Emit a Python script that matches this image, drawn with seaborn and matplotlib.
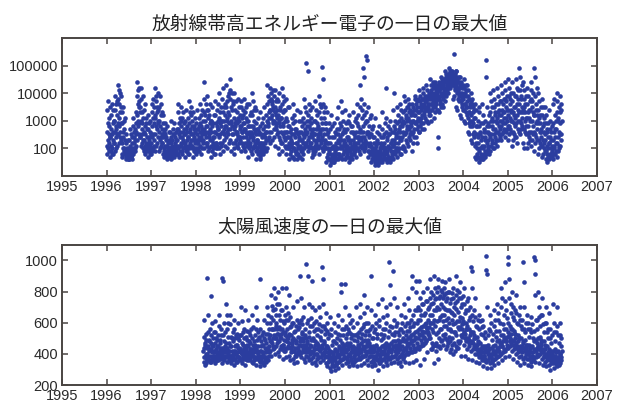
import numpy as np
import pandas as pd
import matplotlib
matplotlib.use("Agg")
import matplotlib.pyplot as plt
import matplotlib.ticker as mticker
import seaborn as sns

nan = np.nan

# Daily maxima, sampled 16 times per month (one row = one month).
# Radiation-belt electrons: log10 of the flux.
elec_1996 = [
    2.1, 3.4, 1.8, 2.6, 3.7, 2.3, 2.0, 2.9, 2.5, 1.9, 3.1, 2.2, 2.8, 1.7, 3.5, 2.4,
    2.4, 1.9, 3.2, 2.7, 2.1, 3.6, 2.5, 1.8, 2.0, 2.9, 2.3, 3.4, 1.8, 2.6, 3.0, 2.2,
    3.0, 2.2, 3.9, 2.6, 1.9, 3.4, 2.8, 2.4, 2.7, 3.6, 2.0, 3.2, 2.5, 3.7, 2.1, 2.9,
    3.8, 2.5, 4.3, 3.1, 2.2, 3.6, 4.1, 2.8, 2.6, 3.3, 4.0, 2.4, 3.9, 2.9, 3.5, 2.3,
    2.9, 1.8, 3.3, 2.2, 1.7, 2.6, 3.5, 2.0, 2.4, 2.0, 3.0, 1.9, 2.7, 1.8, 2.3, 3.1,
    1.8, 1.6, 2.2, 1.7, 1.9, 2.5, 1.7, 1.8, 1.7, 2.0, 1.6, 1.8, 2.3, 1.7, 1.9, 1.6,
    1.7, 2.3, 1.6, 2.0, 2.7, 1.8, 2.1, 1.7, 1.9, 1.7, 2.5, 1.8, 2.2, 1.6, 2.4, 1.8,
    2.0, 2.8, 1.8, 3.1, 2.4, 1.9, 2.6, 2.2, 2.3, 1.9, 2.7, 2.0, 3.3, 2.1, 2.9, 2.5,
    2.6, 3.9, 4.4, 3.2, 2.3, 4.1, 3.6, 2.8, 3.0, 3.5, 2.5, 4.2, 2.9, 3.7, 2.4, 3.3,
    3.5, 2.4, 4.2, 3.0, 2.1, 3.8, 2.7, 2.2, 2.9, 3.3, 2.5, 3.9, 2.3, 3.1, 2.0, 2.6,
    2.3, 3.4, 1.9, 2.8, 3.6, 2.1, 2.5, 1.8, 2.2, 2.9, 2.0, 3.1, 2.4, 1.9, 2.7, 2.1,
    2.0, 2.7, 1.7, 3.2, 2.2, 1.9, 2.9, 2.4, 2.3, 1.8, 2.6, 2.1, 3.0, 1.8, 2.5, 2.0,
]
elec_1997 = [
    2.2, 3.6, 1.9, 2.8, 3.3, 2.4, 3.8, 2.0, 2.5, 3.1, 2.1, 3.5, 2.3, 2.9, 1.9, 3.2,
    3.1, 4.2, 2.5, 3.7, 2.1, 3.9, 2.8, 3.3, 2.7, 3.5, 2.2, 3.0, 4.0, 2.4, 3.4, 2.9,
    2.6, 3.5, 1.9, 3.0, 3.9, 2.3, 2.0, 2.8, 2.4, 3.2, 2.1, 3.6, 2.7, 2.2, 3.3, 2.5,
    2.2, 1.8, 2.9, 2.4, 3.2, 1.9, 2.6, 1.7, 2.0, 2.5, 1.8, 2.7, 2.1, 2.9, 1.9, 2.3,
    1.8, 2.4, 1.6, 2.1, 2.8, 1.7, 2.0, 1.9, 1.7, 2.2, 1.9, 2.6, 1.8, 2.3, 1.7, 2.0,
    2.0, 1.7, 2.6, 1.9, 3.0, 2.2, 1.6, 2.4, 1.8, 2.3, 2.1, 1.7, 2.7, 1.9, 2.5, 2.0,
    1.9, 2.5, 1.7, 2.9, 2.1, 1.8, 2.4, 2.0, 2.2, 1.8, 2.6, 1.9, 2.3, 2.1, 1.8, 2.7,
    2.3, 3.3, 1.8, 2.7, 3.6, 2.0, 2.5, 1.7, 2.1, 2.9, 2.4, 3.1, 1.9, 2.6, 2.2, 3.0,
    2.1, 2.8, 3.5, 1.9, 2.4, 3.1, 1.8, 2.6, 2.3, 3.3, 2.0, 2.7, 2.2, 2.9, 2.5, 2.1,
    2.5, 1.7, 3.0, 2.2, 3.4, 1.9, 2.7, 2.0, 2.3, 2.8, 1.9, 2.6, 3.1, 2.1, 2.4, 1.8,
    2.4, 3.7, 2.0, 2.9, 1.8, 3.3, 2.6, 2.2, 2.7, 2.1, 3.2, 2.5, 3.5, 2.3, 2.8, 2.0,
    2.1, 3.0, 1.7, 2.5, 3.3, 2.3, 1.9, 2.7, 2.4, 2.0, 2.8, 2.2, 3.1, 1.9, 2.6, 2.3,
]
elec_1998 = [
    2.0, 2.9, 1.8, 2.5, 3.4, 2.2, 2.7, 1.9, 2.3, 2.0, 2.7, 2.2, 3.1, 1.9, 2.4, 2.8,
    2.6, 3.6, 2.1, 2.9, 1.8, 3.2, 2.4, 2.8, 2.3, 2.7, 2.0, 3.4, 2.5, 2.2, 3.0, 2.6,
    2.3, 3.8, 4.4, 2.7, 3.3, 2.0, 3.0, 2.5, 2.6, 3.2, 2.2, 3.6, 2.8, 2.4, 3.4, 2.1,
    2.8, 3.9, 2.2, 3.4, 1.9, 2.6, 3.1, 2.4, 2.5, 3.2, 2.0, 2.9, 3.6, 2.3, 2.7, 3.0,
    2.1, 3.0, 1.7, 2.6, 3.5, 2.3, 1.9, 2.8, 2.4, 2.0, 2.9, 2.2, 3.2, 1.8, 2.6, 2.1,
    2.4, 1.8, 3.2, 2.6, 3.7, 2.0, 2.9, 2.2, 2.2, 2.8, 2.0, 3.4, 2.5, 2.1, 3.0, 2.7,
    2.7, 3.6, 2.0, 3.1, 4.0, 2.4, 1.8, 2.9, 2.5, 3.3, 2.2, 2.8, 3.5, 2.1, 3.0, 2.6,
    3.0, 2.2, 3.8, 2.6, 4.2, 1.9, 3.3, 2.5, 2.7, 3.5, 2.3, 3.0, 2.1, 3.6, 2.8, 3.2,
    2.8, 3.5, 4.3, 2.4, 3.1, 2.0, 3.7, 2.6, 3.0, 2.5, 3.9, 2.7, 3.3, 2.2, 4.0, 2.9,
    3.2, 4.5, 2.3, 3.8, 2.7, 4.1, 1.9, 3.0, 2.9, 3.5, 2.5, 4.0, 2.8, 3.4, 2.2, 3.7,
    2.5, 3.6, 2.0, 3.1, 4.0, 2.7, 1.8, 2.9, 2.8, 2.2, 3.4, 2.6, 3.7, 2.3, 3.0, 2.5,
    2.6, 3.3, 2.1, 2.9, 3.8, 2.4, 2.0, 3.1, 2.4, 3.0, 2.2, 3.5, 2.7, 2.3, 3.2, 2.8,
]
elec_1999 = [
    2.4, 3.5, 1.9, 2.8, 3.7, 2.2, 3.1, 2.6, 2.6, 3.2, 2.1, 2.9, 2.4, 3.4, 2.0, 2.7,
    2.9, 3.8, 2.2, 3.3, 1.9, 2.7, 3.5, 2.4, 2.6, 3.1, 2.1, 3.6, 2.5, 3.0, 2.2, 2.8,
    2.3, 3.0, 1.7, 2.6, 3.6, 2.0, 2.8, 2.2, 2.5, 2.1, 3.2, 2.4, 2.8, 1.9, 3.3, 2.6,
    2.5, 4.0, 1.8, 3.2, 2.3, 3.7, 2.0, 2.8, 2.4, 3.4, 2.1, 2.7, 3.0, 2.2, 3.5, 2.6,
    2.1, 2.9, 1.6, 2.5, 3.4, 1.9, 2.3, 2.7, 2.3, 2.0, 2.7, 2.2, 3.1, 1.8, 2.5, 2.1,
    1.9, 2.6, 1.7, 3.3, 2.2, 1.6, 2.8, 2.0, 2.2, 1.8, 2.5, 2.0, 2.9, 1.9, 2.4, 2.1,
    2.2, 3.1, 1.8, 2.7, 3.5, 2.0, 2.5, 1.9, 2.4, 2.0, 2.8, 2.2, 3.2, 1.9, 2.6, 2.3,
    2.6, 3.6, 2.0, 4.3, 3.0, 2.3, 3.9, 2.8, 2.9, 3.3, 2.4, 3.7, 2.6, 3.1, 2.2, 3.4,
    3.4, 4.2, 2.6, 3.8, 3.1, 4.0, 2.3, 3.6, 3.2, 3.7, 2.9, 3.4, 4.1, 3.0, 3.5, 2.7,
    3.0, 3.9, 2.4, 3.5, 4.1, 2.1, 3.3, 2.8, 3.2, 2.7, 3.7, 2.9, 3.4, 2.5, 3.8, 3.1,
    2.6, 3.7, 2.0, 3.2, 4.0, 2.4, 1.8, 3.0, 2.9, 3.4, 2.3, 2.8, 3.5, 2.2, 3.1, 2.6,
    3.1, 4.2, 2.2, 3.6, 1.9, 2.9, 3.9, 2.5, 2.8, 3.3, 2.4, 3.7, 2.6, 3.4, 2.1, 3.0,
]
elec_2000 = [
    2.3, 3.4, 1.8, 3.8, 2.6, 2.0, 3.1, 2.4, 2.6, 2.1, 3.0, 2.4, 3.5, 2.0, 2.8, 2.2,
    2.0, 2.8, 1.6, 3.5, 2.4, 1.8, 2.6, 2.1, 2.3, 1.9, 2.7, 2.1, 3.1, 1.7, 2.5, 2.2,
    2.2, 3.6, 1.7, 2.9, 2.0, 3.2, 1.6, 2.5, 2.0, 2.7, 1.9, 2.4, 3.0, 1.8, 2.6, 2.2,
    1.9, 2.7, 1.6, 3.4, 2.2, 1.8, 2.5, 2.0, 2.1, 1.8, 2.6, 2.3, 3.0, 1.7, 2.4, 2.0,
    2.1, 3.3, 1.7, 2.6, 1.9, 3.0, 2.3, 1.6, 2.3, 1.9, 2.8, 2.0, 3.1, 1.8, 2.5, 2.2,
    2.4, 3.8, 2.0, 2.9, 2.2, 3.5, 2.6, 2.1, 2.7, 2.2, 3.3, 5.1, 2.5, 3.0, 2.1, 2.8,
    2.6, 4.8, 1.9, 3.2, 2.3, 3.6, 2.0, 2.8, 2.4, 3.0, 2.1, 2.7, 3.4, 2.2, 2.9, 2.5,
    2.2, 3.1, 1.7, 2.6, 3.5, 2.0, 2.4, 1.8, 2.0, 2.7, 1.9, 2.3, 3.0, 1.8, 2.5, 2.1,
    2.5, 3.7, 1.9, 3.0, 2.2, 3.4, 2.7, 2.0, 2.3, 2.9, 2.1, 3.2, 2.5, 2.0, 2.7, 2.4,
    2.8, 3.9, 2.1, 3.3, 1.8, 2.6, 3.6, 2.3, 2.5, 3.1, 2.2, 3.5, 2.7, 2.0, 2.9, 2.4,
    2.3, 4.95, 3.6, 1.9, 4.5, 2.7, 3.1, 2.1, 2.5, 3.3, 2.0, 2.9, 2.3, 3.5, 2.2, 2.7,
    2.0, 2.9, 1.5, 2.5, 3.3, 1.7, 2.2, 1.6, 2.2, 1.8, 2.6, 2.0, 2.9, 1.6, 2.4, 1.9,
]
elec_2001 = [
    1.8, 2.7, 1.4, 2.2, 3.2, 1.6, 2.0, 1.5, 2.0, 1.6, 2.4, 1.7, 2.8, 1.5, 2.1, 1.8,
    1.7, 2.4, 1.5, 2.9, 2.0, 1.6, 2.6, 1.9, 2.1, 1.7, 2.5, 1.8, 2.2, 1.6, 2.7, 2.0,
    2.0, 3.1, 1.6, 2.5, 3.5, 1.8, 2.3, 1.7, 2.2, 1.8, 2.7, 2.0, 2.9, 1.7, 2.4, 2.1,
    2.3, 3.7, 1.7, 2.8, 2.0, 3.3, 1.6, 2.5, 2.1, 2.6, 1.8, 3.0, 2.3, 1.9, 2.7, 2.2,
    1.9, 2.6, 1.6, 3.4, 2.2, 1.7, 2.9, 2.1, 2.0, 2.4, 1.8, 2.7, 2.1, 3.0, 1.9, 2.3,
    1.7, 2.4, 1.5, 2.9, 2.0, 3.2, 1.6, 2.2, 1.9, 2.3, 1.7, 2.6, 2.0, 2.8, 1.8, 2.1,
    2.0, 2.8, 1.6, 3.3, 2.3, 1.8, 2.6, 1.9, 2.2, 1.8, 2.5, 2.0, 3.0, 1.9, 2.4, 2.1,
    2.2, 3.1, 1.7, 2.6, 3.6, 2.0, 2.9, 2.4, 2.4, 2.0, 2.8, 2.2, 3.2, 1.9, 2.6, 2.3,
    2.4, 3.5, 1.8, 4.3, 2.7, 2.1, 3.8, 2.3, 2.6, 2.1, 3.1, 2.4, 3.4, 2.0, 2.8, 2.2,
    2.6, 4.9, 3.2, 1.9, 4.6, 2.4, 3.6, 2.1, 2.3, 2.9, 2.0, 3.3, 5.35, 2.2, 3.0, 2.6,
    2.5, 5.2, 2.2, 3.0, 1.7, 2.6, 3.5, 1.9, 2.1, 2.8, 1.9, 2.4, 3.1, 1.8, 2.5, 2.2,
    1.8, 2.5, 1.5, 3.2, 2.1, 1.6, 2.7, 1.9, 2.0, 1.7, 2.4, 1.8, 2.8, 1.6, 2.2, 1.9,
]
elec_2002 = [
    1.6, 2.4, 1.4, 2.0, 3.1, 1.5, 2.2, 1.7, 1.8, 2.1, 1.5, 2.6, 1.9, 1.6, 2.3, 1.7,
    1.5, 2.2, 1.4, 2.8, 1.8, 1.6, 2.5, 1.9, 1.7, 2.0, 1.5, 2.4, 1.8, 2.1, 1.6, 2.2,
    1.8, 2.7, 1.5, 3.3, 2.1, 1.6, 2.4, 2.0, 1.9, 2.2, 1.7, 2.5, 1.8, 2.9, 2.0, 1.6,
    2.0, 4.2, 1.6, 2.6, 3.1, 1.5, 2.3, 1.8, 1.9, 2.4, 1.7, 2.8, 2.1, 1.6, 2.5, 2.0,
    1.7, 2.5, 1.5, 3.0, 2.0, 1.6, 2.7, 2.2, 1.9, 2.2, 1.6, 2.6, 1.8, 2.3, 1.7, 2.1,
    2.1, 3.4, 1.6, 2.6, 4.0, 1.9, 2.3, 2.8, 2.2, 2.7, 1.8, 3.0, 2.4, 2.0, 2.5, 1.9,
    2.4, 3.5, 1.7, 2.9, 2.0, 3.2, 2.6, 1.9, 2.2, 2.7, 2.0, 3.0, 2.4, 1.8, 2.8, 2.3,
    2.6, 3.6, 1.8, 3.1, 2.3, 3.4, 2.0, 2.8, 2.4, 2.9, 2.1, 3.3, 2.6, 2.0, 3.0, 2.5,
    2.9, 3.9, 2.0, 3.4, 2.5, 3.7, 1.9, 3.1, 2.6, 3.2, 2.3, 3.5, 2.8, 2.2, 3.0, 2.7,
    3.1, 3.8, 2.1, 3.5, 2.7, 3.3, 2.4, 3.6, 2.8, 3.4, 2.5, 3.0, 2.3, 3.2, 2.9, 2.6,
    2.8, 3.6, 1.9, 3.3, 2.5, 3.0, 3.5, 2.2, 3.0, 2.6, 3.4, 2.4, 3.2, 2.7, 3.8, 2.9,
    3.2, 3.9, 2.4, 3.6, 2.9, 3.4, 2.2, 3.7, 3.0, 3.5, 2.7, 3.3, 2.8, 3.8, 3.1, 2.6,
]
elec_2003 = [
    3.3, 4.1, 2.6, 3.7, 3.0, 3.9, 2.8, 3.5, 3.1, 3.6, 2.9, 3.4, 3.8, 3.2, 2.7, 3.5,
    3.5, 4.0, 2.9, 3.8, 4.2, 3.2, 3.6, 2.7, 3.3, 3.7, 3.1, 3.9, 3.4, 3.0, 3.8, 3.5,
    3.7, 4.3, 3.0, 3.9, 3.4, 4.1, 2.9, 3.6, 3.5, 3.8, 3.2, 4.0, 3.6, 3.3, 3.9, 3.4,
    3.8, 4.5, 3.2, 4.1, 3.6, 4.3, 3.0, 3.9, 3.6, 4.0, 3.4, 4.2, 3.7, 3.5, 4.4, 3.8,
    3.9, 4.3, 3.1, 3.6, 4.4, 3.3, 4.0, 3.5, 3.8, 4.1, 3.6, 4.2, 3.7, 3.9, 4.3, 3.4,
    4.0, 2.4, 3.4, 4.2, 2.0, 4.4, 3.3, 4.1, 3.8, 4.1, 3.6, 4.3, 3.9, 3.7, 4.0, 3.5,
    4.2, 4.6, 3.6, 4.4, 3.9, 4.5, 3.5, 4.3, 4.0, 4.3, 3.8, 4.1, 4.5, 3.9, 4.2, 3.7,
    4.4, 4.8, 4.0, 4.6, 4.2, 4.7, 3.9, 4.5, 4.3, 4.6, 4.1, 4.5, 4.7, 4.2, 4.4, 4.0,
    4.6, 4.9, 4.3, 4.7, 4.4, 4.8, 4.2, 4.6, 4.5, 4.7, 4.4, 4.8, 4.5, 4.6, 4.3, 4.7,
    4.5, 4.8, 3.8, 4.7, 4.3, 4.6, 5.4, 3.9, 4.4, 4.6, 4.1, 4.7, 4.5, 4.2, 4.8, 4.4,
    4.3, 4.8, 3.5, 4.5, 4.0, 4.6, 3.4, 4.2, 4.1, 4.4, 3.8, 4.6, 4.2, 3.9, 4.4, 3.7,
    4.0, 4.6, 3.2, 4.3, 3.7, 4.4, 3.1, 3.9, 3.8, 4.2, 3.5, 4.0, 3.6, 4.3, 3.4, 3.9,
]
elec_2004 = [
    3.8, 4.5, 3.0, 4.2, 3.4, 4.0, 2.9, 3.6, 3.6, 4.1, 3.3, 3.9, 3.5, 4.3, 3.2, 3.7,
    3.5, 4.3, 2.6, 3.9, 3.1, 4.1, 2.5, 3.3, 3.3, 3.8, 2.9, 3.6, 3.0, 3.5, 2.8, 3.7,
    3.2, 4.0, 2.3, 3.6, 2.8, 3.8, 2.2, 3.0, 2.9, 3.5, 2.5, 3.3, 2.6, 3.1, 2.4, 3.4,
    2.5, 3.6, 1.7, 3.1, 2.1, 3.4, 1.6, 2.8, 2.2, 2.8, 1.8, 2.5, 2.0, 3.0, 1.7, 2.4,
    2.2, 3.3, 1.5, 2.8, 1.9, 3.5, 1.6, 2.5, 2.0, 2.6, 1.7, 2.3, 1.8, 2.9, 1.6, 2.1,
    2.4, 3.6, 1.7, 2.9, 2.0, 3.2, 1.6, 2.6, 2.1, 2.7, 1.8, 2.4, 1.9, 3.0, 1.7, 2.3,
    2.6, 5.2, 1.8, 4.6, 2.2, 3.5, 1.9, 2.8, 2.3, 2.9, 2.0, 2.6, 2.1, 3.2, 1.8, 2.5,
    2.8, 4.0, 1.9, 3.3, 2.4, 3.7, 2.1, 3.0, 2.5, 3.1, 2.2, 2.8, 2.3, 3.5, 2.0, 2.7,
    3.0, 4.1, 2.0, 3.5, 2.5, 3.8, 2.2, 3.2, 2.7, 3.3, 2.4, 3.0, 2.6, 3.6, 2.3, 2.9,
    3.1, 4.2, 2.1, 3.6, 2.6, 3.9, 2.3, 3.3, 2.8, 3.4, 2.5, 3.2, 2.7, 3.7, 2.4, 3.0,
    3.2, 4.3, 2.3, 3.7, 2.8, 4.0, 2.5, 3.4, 3.0, 3.6, 2.6, 3.3, 2.9, 3.8, 2.7, 3.1,
    3.3, 4.4, 2.4, 3.8, 2.9, 4.1, 2.6, 3.5, 3.1, 3.7, 2.7, 3.4, 3.0, 3.9, 2.8, 3.2,
]
elec_2005 = [
    3.4, 4.5, 2.3, 3.9, 2.8, 4.2, 2.5, 3.6, 3.1, 3.8, 2.7, 3.4, 3.0, 4.0, 2.6, 3.3,
    3.0, 4.4, 2.1, 3.7, 2.6, 4.0, 2.3, 3.3, 2.9, 3.5, 2.5, 3.2, 2.8, 3.9, 2.4, 3.1,
    3.5, 4.5, 2.4, 3.9, 2.9, 4.2, 2.2, 3.6, 3.2, 3.8, 2.7, 3.4, 3.0, 4.1, 2.6, 3.3,
    3.6, 4.9, 2.5, 4.1, 3.0, 4.6, 2.7, 3.8, 3.3, 3.9, 2.9, 3.5, 3.1, 4.3, 2.8, 3.4,
    3.3, 4.4, 2.2, 3.8, 2.7, 4.1, 2.0, 3.5, 3.0, 3.6, 2.6, 3.3, 2.8, 3.9, 2.5, 3.1,
    3.1, 4.2, 2.0, 3.6, 2.5, 3.9, 2.2, 3.3, 2.8, 3.4, 2.4, 3.1, 2.6, 3.7, 2.3, 3.0,
    3.4, 4.4, 2.1, 3.8, 2.6, 4.1, 2.3, 3.5, 3.0, 3.7, 2.5, 3.3, 2.8, 4.0, 2.6, 3.2,
    3.2, 4.9, 1.9, 4.6, 2.5, 3.9, 2.2, 3.4, 2.9, 3.6, 2.4, 3.2, 2.7, 4.2, 2.3, 3.0,
    2.9, 4.0, 1.8, 3.4, 2.3, 3.7, 2.0, 3.1, 2.6, 3.2, 2.2, 2.9, 2.4, 3.5, 2.1, 2.7,
    2.6, 3.8, 1.7, 3.2, 2.1, 3.5, 1.8, 2.8, 2.3, 2.9, 2.0, 2.6, 2.2, 3.1, 1.9, 2.5,
    2.3, 3.5, 1.6, 2.9, 1.9, 3.2, 1.5, 2.6, 2.1, 2.7, 1.8, 2.4, 2.0, 2.9, 1.7, 2.2,
    2.2, 3.4, 1.6, 2.7, 1.8, 3.0, 1.7, 2.4, 2.0, 2.6, 1.8, 2.3, 1.9, 2.8, 1.7, 2.1,
]
elec_2006 = [
    2.3, 3.6, 1.6, 2.9, 2.0, 3.8, 1.8, 2.6, 2.1, 2.7, 1.8, 3.2, 2.4, 1.9, 3.0, 2.2,
    2.7, 4.0, 1.7, 3.3, 2.2, 3.7, 1.9, 3.0, 2.4, 3.1, 2.0, 3.5, 2.6, 2.1, 3.3, 2.5,
    2.9, 3.9, 2.1, 3.4, 2.5, 3.6, 2.3, 3.0,
]

# Solar wind speed (km/s), same sampling; data start in March 1998.
wind_1998 = [
    nan, nan, nan, nan, nan, nan, nan, nan, nan, nan, nan, nan, nan, nan, nan, nan,
    nan, nan, nan, nan, nan, nan, nan, nan, nan, nan, nan, nan, nan, nan, nan, nan,
    420, 350, 510, 380, 620, 440, 330, 470, 380, 460, 340, 530, 400, 490, 360, 440,
    400, 890, 360, 540, 450, 650, 380, 490, 420, 360, 480, 390, 560, 430, 350, 470,
    430, 770, 350, 520, 410, 600, 370, 460, 390, 450, 360, 500, 420, 380, 540, 410,
    390, 540, 340, 470, 610, 420, 360, 500, 430, 380, 490, 360, 450, 400, 520, 370,
    450, 360, 580, 410, 650, 380, 490, 430, 400, 470, 370, 520, 440, 390, 560, 420,
    400, 890, 340, 520, 870, 440, 370, 600, 420, 380, 480, 360, 540, 410, 450, 390,
    470, 380, 720, 430, 560, 350, 650, 410, 440, 400, 510, 380, 600, 420, 470, 360,
    420, 360, 590, 450, 650, 390, 510, 340, 390, 450, 370, 500, 420, 360, 540, 400,
    390, 480, 330, 560, 420, 620, 370, 450, 420, 370, 500, 400, 460, 350, 520, 390,
    410, 530, 350, 460, 600, 380, 440, 500, 380, 440, 360, 490, 410, 370, 520, 430,
]
wind_1999 = [
    430, 700, 360, 520, 410, 610, 340, 470, 400, 460, 380, 540, 420, 370, 500, 440,
    400, 560, 330, 680, 450, 370, 510, 420, 430, 380, 490, 360, 460, 400, 550, 390,
    450, 380, 620, 410, 540, 360, 480, 430, 410, 470, 370, 520, 430, 390, 560, 400,
    420, 650, 350, 500, 390, 570, 340, 460, 390, 440, 360, 480, 410, 370, 520, 430,
    460, 380, 700, 430, 560, 330, 620, 410, 420, 490, 370, 540, 400, 450, 360, 510,
    390, 500, 320, 880, 420, 560, 350, 450, 420, 370, 480, 350, 460, 390, 520, 400,
    410, 340, 540, 460, 620, 380, 500, 330, 380, 440, 360, 490, 410, 350, 530, 420,
    470, 600, 380, 700, 440, 530, 360, 650, 430, 500, 390, 560, 450, 410, 600, 480,
    520, 420, 780, 480, 640, 390, 710, 560, 470, 560, 430, 620, 500, 450, 680, 520,
    560, 440, 820, 500, 690, 400, 760, 600, 500, 580, 450, 650, 530, 470, 720, 560,
    530, 410, 800, 480, 650, 390, 720, 570, 480, 560, 430, 620, 510, 450, 680, 530,
    500, 430, 820, 560, 680, 370, 610, 460, 460, 540, 420, 600, 490, 440, 650, 520,
]
wind_2000 = [
    540, 420, 820, 480, 700, 380, 620, 510, 480, 560, 440, 620, 500, 450, 660, 530,
    470, 390, 780, 520, 640, 360, 570, 440, 440, 520, 410, 580, 470, 420, 600, 490,
    450, 370, 700, 500, 600, 340, 540, 420, 420, 490, 390, 550, 440, 400, 580, 470,
    480, 390, 740, 440, 620, 350, 560, 410, 440, 510, 400, 570, 460, 420, 600, 480,
    500, 400, 900, 460, 760, 380, 620, 540, 450, 530, 410, 590, 480, 430, 640, 500,
    460, 370, 700, 430, 560, 350, 520, 410, 430, 500, 390, 980, 450, 410, 600, 480,
    470, 900, 380, 620, 430, 720, 360, 540, 440, 510, 400, 580, 460, 420, 630, 490,
    450, 370, 700, 870, 410, 580, 340, 500, 420, 490, 380, 550, 440, 400, 600, 460,
    430, 350, 680, 480, 560, 330, 610, 400, 400, 470, 370, 520, 430, 380, 560, 450,
    460, 380, 700, 430, 590, 350, 640, 510, 420, 490, 380, 550, 440, 400, 580, 460,
    440, 960, 360, 720, 880, 400, 580, 470, 410, 480, 380, 530, 430, 390, 560, 450,
    410, 340, 660, 450, 550, 320, 600, 390, 380, 440, 350, 500, 400, 360, 530, 420,
]
wind_2001 = [
    380, 310, 640, 420, 520, 290, 560, 360, 350, 410, 330, 460, 370, 320, 480, 390,
    400, 320, 600, 370, 480, 300, 540, 430, 360, 420, 330, 470, 380, 340, 500, 400,
    420, 340, 650, 390, 530, 310, 580, 450, 380, 440, 350, 490, 400, 360, 520, 420,
    440, 850, 360, 800, 470, 560, 330, 620, 400, 460, 370, 520, 420, 380, 560, 440,
    460, 380, 850, 420, 700, 340, 580, 500, 410, 470, 370, 530, 430, 390, 560, 450,
    430, 350, 650, 400, 540, 320, 600, 470, 390, 450, 360, 500, 410, 370, 530, 430,
    410, 340, 620, 450, 520, 330, 570, 390, 380, 440, 350, 490, 400, 360, 520, 420,
    440, 360, 700, 420, 600, 320, 530, 480, 400, 460, 370, 510, 420, 380, 540, 440,
    460, 370, 720, 410, 640, 330, 560, 500, 410, 470, 380, 530, 430, 390, 570, 450,
    480, 390, 780, 440, 660, 340, 590, 520, 420, 490, 390, 550, 450, 400, 600, 470,
    450, 360, 700, 420, 600, 330, 550, 490, 410, 470, 380, 520, 430, 390, 560, 450,
    430, 900, 350, 680, 410, 580, 320, 500, 390, 450, 360, 500, 410, 370, 540, 430,
]
wind_2002 = [
    420, 340, 650, 390, 560, 330, 600, 460, 390, 450, 360, 500, 410, 370, 530, 430,
    400, 300, 720, 430, 580, 340, 620, 380, 370, 440, 340, 490, 400, 360, 530, 420,
    450, 360, 750, 410, 640, 320, 560, 500, 400, 460, 370, 520, 420, 380, 560, 440,
    440, 350, 700, 470, 600, 330, 650, 400, 400, 460, 370, 510, 420, 380, 550, 440,
    460, 990, 370, 720, 840, 420, 580, 340, 410, 470, 380, 530, 430, 390, 570, 450,
    480, 380, 930, 450, 760, 350, 620, 520, 420, 480, 390, 540, 440, 400, 580, 460,
    450, 370, 700, 420, 600, 340, 540, 490, 410, 470, 380, 520, 430, 390, 560, 450,
    430, 350, 650, 480, 560, 320, 600, 400, 400, 450, 370, 500, 420, 380, 540, 430,
    480, 390, 720, 440, 640, 350, 580, 520, 430, 490, 400, 550, 450, 410, 600, 470,
    500, 400, 760, 460, 680, 340, 600, 550, 440, 510, 410, 570, 470, 420, 620, 490,
    520, 410, 900, 480, 820, 350, 650, 580, 460, 530, 420, 600, 490, 440, 680, 510,
    540, 420, 870, 500, 800, 360, 680, 600, 470, 550, 440, 620, 500, 450, 700, 530,
]
wind_2003 = [
    560, 430, 870, 520, 760, 330, 680, 620, 490, 570, 450, 650, 520, 470, 720, 550,
    580, 460, 800, 540, 720, 370, 650, 500, 510, 590, 470, 660, 540, 490, 740, 570,
    600, 480, 820, 560, 740, 410, 690, 530, 540, 620, 500, 700, 570, 520, 760, 600,
    650, 500, 880, 600, 800, 430, 720, 560, 470, 650, 430, 730, 540, 600, 780, 450,
    680, 340, 900, 620, 820, 460, 750, 580, 470, 680, 420, 760, 530, 610, 800, 450,
    700, 540, 880, 370, 830, 450, 760, 620, 500, 690, 440, 770, 560, 640, 810, 480,
    720, 560, 870, 650, 800, 490, 760, 610, 520, 700, 460, 780, 580, 650, 820, 500,
    690, 530, 860, 620, 790, 430, 740, 580, 490, 680, 450, 760, 560, 630, 800, 470,
    680, 510, 880, 600, 800, 410, 730, 560, 480, 670, 430, 750, 550, 620, 790, 460,
    660, 500, 820, 590, 760, 400, 700, 540, 470, 650, 420, 730, 540, 600, 780, 450,
    690, 520, 900, 610, 810, 440, 740, 570, 480, 670, 440, 760, 560, 610, 800, 470,
    640, 480, 860, 570, 760, 390, 700, 520, 560, 630, 510, 720, 590, 530, 770, 610,
]
wind_2004 = [
    600, 460, 820, 540, 720, 390, 660, 500, 530, 600, 480, 680, 560, 500, 740, 580,
    560, 430, 760, 500, 680, 370, 620, 470, 490, 560, 450, 640, 520, 470, 700, 540,
    540, 960, 420, 820, 930, 480, 650, 360, 470, 540, 430, 610, 500, 450, 680, 520,
    500, 400, 760, 460, 640, 350, 580, 430, 440, 510, 400, 570, 460, 420, 620, 480,
    470, 380, 650, 430, 560, 340, 610, 400, 410, 470, 380, 530, 430, 390, 570, 450,
    440, 360, 620, 410, 520, 320, 580, 390, 390, 450, 360, 500, 410, 370, 540, 430,
    450, 1030, 350, 940, 910, 420, 700, 310, 400, 460, 360, 520, 420, 380, 560, 440,
    430, 340, 650, 400, 550, 310, 600, 380, 380, 440, 350, 490, 400, 360, 530, 420,
    450, 360, 680, 420, 580, 330, 620, 400, 400, 460, 370, 510, 420, 380, 550, 440,
    480, 380, 720, 440, 620, 340, 660, 420, 420, 490, 390, 550, 450, 400, 600, 470,
    520, 400, 820, 470, 700, 360, 760, 450, 450, 520, 410, 590, 480, 430, 650, 500,
    560, 420, 860, 500, 740, 380, 680, 480, 480, 560, 440, 630, 510, 460, 1020, 540,
]
wind_2005 = [
    600, 440, 980, 520, 880, 390, 760, 480, 500, 580, 450, 660, 530, 470, 720, 560,
    560, 420, 800, 490, 700, 370, 640, 460, 480, 550, 430, 620, 500, 450, 680, 530,
    530, 400, 780, 470, 660, 350, 600, 440, 450, 520, 410, 590, 480, 430, 650, 500,
    500, 380, 700, 450, 620, 330, 580, 420, 430, 500, 390, 560, 450, 410, 620, 470,
    480, 990, 370, 860, 440, 700, 340, 560, 420, 490, 380, 540, 440, 400, 600, 460,
    460, 370, 650, 420, 560, 330, 600, 400, 400, 460, 370, 510, 420, 380, 560, 440,
    440, 350, 640, 410, 540, 320, 590, 390, 390, 450, 360, 500, 410, 370, 550, 430,
    480, 1020, 380, 1000, 910, 780, 350, 620, 420, 490, 380, 560, 440, 400, 620, 470,
    500, 390, 800, 450, 700, 340, 640, 430, 440, 510, 400, 580, 460, 420, 650, 490,
    470, 370, 760, 430, 650, 330, 590, 410, 410, 480, 380, 540, 430, 390, 600, 460,
    430, 350, 700, 400, 600, 320, 540, 380, 390, 450, 360, 500, 410, 370, 560, 430,
    400, 330, 660, 380, 560, 300, 500, 360, 360, 420, 340, 470, 380, 350, 520, 400,
]
wind_2006 = [
    420, 340, 720, 390, 600, 310, 540, 370, 370, 430, 340, 480, 390, 350, 540, 410,
    410, 330, 700, 380, 580, 320, 520, 360, 360, 420, 330, 470, 380, 340, 520, 400,
    400, 600, 340, 450, 380, 500, 360, 420,
]

elec_years = {1996: elec_1996, 1997: elec_1997, 1998: elec_1998, 1999: elec_1999,
              2000: elec_2000, 2001: elec_2001, 2002: elec_2002, 2003: elec_2003,
              2004: elec_2004, 2005: elec_2005, 2006: elec_2006}
wind_years = {1998: wind_1998, 1999: wind_1999, 2000: wind_2000, 2001: wind_2001,
              2002: wind_2002, 2003: wind_2003, 2004: wind_2004, 2005: wind_2005,
              2006: wind_2006}

year_ticks = list(range(1995, 2008))
elec_ticks = [100, 1000, 10000, 100000]
wind_ticks = [200, 400, 600, 800, 1000]

title_top = "放射線帯高エネルギー電子の一日の最大値"
title_bottom = "太陽風速度の一日の最大値"

SAMPLES_PER_YEAR = 192
DOT = "#2b3d9f"
FRAME = "#4a4542"


def to_frame(by_year):
    rows = []
    for yr, vals in by_year.items():
        for i, v in enumerate(vals):
            rows.append((yr + (i + 0.5) / SAMPLES_PER_YEAR, v))
    return pd.DataFrame(rows, columns=["t", "v"]).dropna()


def style_axes(ax):
    for sp in ax.spines.values():
        sp.set_color(FRAME)
        sp.set_linewidth(1.4)
    ax.tick_params(direction="in", length=4, width=1.1, color=FRAME,
                   top=True, right=True, labelsize=10.5, labelcolor="#2a2a2a", pad=3)
    ax.set_xlim(1995, 2007)
    ax.set_xticks(year_ticks)
    ax.set_xticklabels([str(y) for y in year_ticks])
    ax.set_xlabel("")
    ax.set_ylabel("")
    ax.grid(False)


def main():
    sns.set_style("ticks")
    plt.rcParams["font.family"] = ["Liberation Sans", "Noto Sans CJK JP", "DejaVu Sans"]

    df_e = to_frame(elec_years)
    df_e["flux"] = 10 ** df_e["v"]
    df_w = to_frame(wind_years)

    fig = plt.figure(figsize=(6.2, 4.08), dpi=100)
    ax1 = fig.add_axes([0.100, 0.569, 0.863, 0.338])
    ax2 = fig.add_axes([0.100, 0.056, 0.863, 0.344])

    sns.scatterplot(data=df_e, x="t", y="flux", ax=ax1, color=DOT, s=11,
                    linewidth=0, legend=False)
    ax1.set_yscale("log")
    ax1.set_ylim(10, 1e6)
    ax1.set_yticks(elec_ticks)
    ax1.yaxis.set_major_formatter(mticker.FuncFormatter(lambda v, p: f"{int(v)}"))
    ax1.yaxis.set_minor_locator(mticker.NullLocator())
    style_axes(ax1)
    ax1.set_title(title_top, fontsize=13.5, family=["Noto Sans CJK JP", "DejaVu Sans"],
                  color="#222222", pad=6)

    sns.scatterplot(data=df_w, x="t", y="v", ax=ax2, color=DOT, s=11,
                    linewidth=0, legend=False)
    ax2.set_ylim(200, 1100)
    ax2.set_yticks(wind_ticks)
    style_axes(ax2)
    ax2.set_title(title_bottom, fontsize=13.5, family=["Noto Sans CJK JP", "DejaVu Sans"],
                  color="#222222", pad=8)

    fig.savefig("out.png", dpi=100, facecolor="white")


if __name__ == "__main__":
    main()
